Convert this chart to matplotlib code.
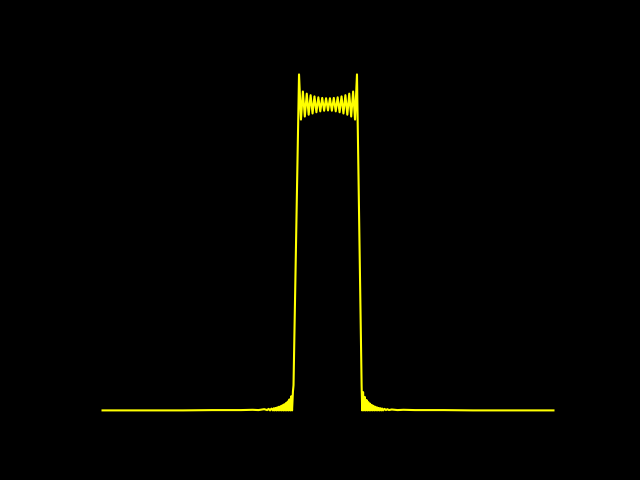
import numpy as np
import matplotlib
matplotlib.use('Agg')
import matplotlib.pyplot as plt

# left tail, far left -> step
tail_left_x = [-7.78, -7.0, -6.0, -5.0, -4.0, -3.0, -2.6, -2.4, -2.2, -2.10, -2.05,
               -2.00, -1.95, -1.90, -1.87, -1.84, -1.81, -1.78, -1.75, -1.72, -1.69,
               -1.66, -1.63, -1.60, -1.57, -1.54, -1.51, -1.48, -1.45, -1.42, -1.39,
               -1.36, -1.33, -1.30, -1.27, -1.24, -1.21, -1.19]
tail_left_y = [0.0, 0.0, 0.0, 0.0, 0.001, 0.001, 0.002, 0.001, 0.004, 0.001, 0.005,
               0.0, 0.006, 0.0, 0.007, 0.0, 0.008, 0.0, 0.010, 0.0, 0.012,
               0.0, 0.014, 0.0, 0.017, 0.0, 0.020, 0.0, 0.024, 0.0, 0.029,
               0.0, 0.036, 0.0, 0.046, 0.0, 0.062, 0.082]

# ringing on top of the pulse
top_x = [-1.000, -0.933, -0.867, -0.800, -0.733, -0.667, -0.600, -0.533, -0.467, -0.400,
         -0.333, -0.267, -0.200, -0.133, -0.067, 0.000, 0.067, 0.133, 0.200, 0.267,
         0.333, 0.400, 0.467, 0.533, 0.600, 0.667, 0.733, 0.800, 0.867, 0.933, 1.000]
top_y = [1.100, 0.952, 1.044, 0.962, 1.037, 0.968, 1.032, 0.972, 1.028, 0.976,
         1.025, 0.979, 1.023, 0.981, 1.022, 0.982, 1.022, 0.981, 1.023, 0.979,
         1.025, 0.976, 1.028, 0.972, 1.032, 0.968, 1.037, 0.962, 1.044, 0.952, 1.100]

# right tail, step -> far right
tail_right_x = [1.16, 1.18, 1.21, 1.24, 1.27, 1.30, 1.33, 1.36, 1.39, 1.42, 1.45,
                1.48, 1.51, 1.54, 1.57, 1.60, 1.63, 1.66, 1.69, 1.72, 1.75,
                1.78, 1.81, 1.84, 1.87, 1.90, 1.95, 2.00, 2.05, 2.10, 2.2,
                2.4, 2.6, 3.0, 4.0, 5.0, 6.0, 7.0, 7.78]
tail_right_y = [0.082, 0.0, 0.060, 0.0, 0.044, 0.0, 0.034, 0.0, 0.027, 0.0, 0.022,
                0.0, 0.018, 0.0, 0.015, 0.0, 0.012, 0.0, 0.010, 0.0, 0.008,
                0.0, 0.007, 0.0, 0.006, 0.0, 0.005, 0.001, 0.004, 0.001, 0.003,
                0.001, 0.002, 0.001, 0.001, 0.0, 0.0, 0.0, 0.0]

x = np.concatenate([tail_left_x, top_x, tail_right_x])
y = np.concatenate([tail_left_y, top_y, tail_right_y])

fig = plt.figure(figsize=(6.4, 4.8), dpi=100, facecolor='black')
ax = fig.add_subplot(111)
ax.set_facecolor('black')
ax.plot(x, y, color='yellow', lw=1.5)
ax.axis('off')

fig.savefig('out.png', facecolor='black')
